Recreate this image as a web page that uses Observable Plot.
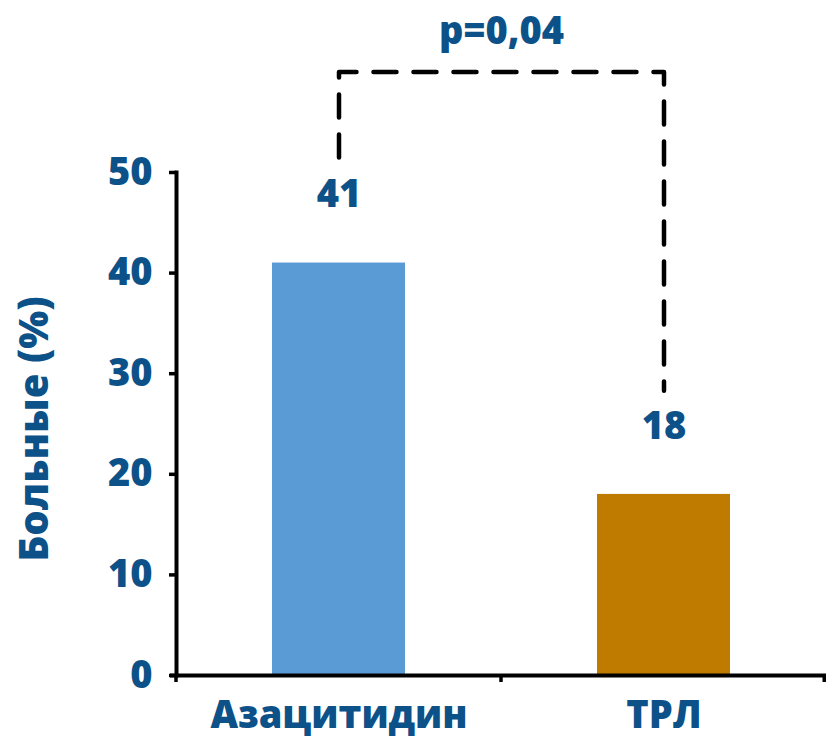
<!DOCTYPE html>
<html>
<head>
<meta charset="utf-8">
<script src="https://cdn.jsdelivr.net/npm/d3@7"></script>
<script src="https://cdn.jsdelivr.net/npm/@observablehq/plot@0.6"></script>
<style>
  body { margin: 0; background: #fff; }
  svg { display: block; }
</style>
</head>
<body>
<div id="chart"></div>
<script>
// Share of patients per treatment arm
const groups = ["Азацитидин", "ТРЛ"];
const percents = [41, 18];
const barColors = ["#5b9bd5", "#bf7b00"];
const yTicks = [0, 10, 20, 30, 40, 50];
const yLabel = "Больные (%)";
const pLabel = "p=0,04";

const ink = "#0d5189";
const font = "'Open Sans', 'Noto Sans', sans-serif";
const fs = 38;

const rows = groups.map((g, i) => ({ group: g, value: percents[i], color: barColors[i] }));

// Significance bracket: rises from above each value label to a common level over the top tick
const bracketTop = d3.max(yTicks) + 10;
const bracket = [
  { group: groups[0], y: percents[0] + 10.5 },
  { group: groups[0], y: bracketTop },
  { group: groups[1], y: bracketTop },
  { group: groups[1], y: percents[1] + 10.3 }
];

const plot = Plot.plot({
  width: 828,
  height: 744,
  marginTop: 172,
  marginBottom: 69,
  marginLeft: 176,
  marginRight: 2,
  style: { fontFamily: font, fontWeight: 800, color: ink, background: "white", overflow: "visible" },
  x: { domain: groups, padding: 0, label: null },
  y: { domain: [0, 50], label: null },
  color: { type: "identity" },
  marks: [
    Plot.barY(rows, { x: "group", y: "value", fill: "color", insetLeft: 96, insetRight: 96 }),
    Plot.axisY({ ticks: yTicks, tickSize: 7, tickPadding: 17, fontSize: fs, stroke: "black", strokeWidth: 3.5, tickFormat: d => String(d), label: null }),
    Plot.axisX({ tickSize: 0, tickPadding: 26, fontSize: fs, label: null }),
    Plot.frame({ anchor: "left", stroke: "black", strokeWidth: 4 }),
    Plot.ruleY([0], { stroke: "black", strokeWidth: 4, insetLeft: -6 }),
    Plot.text(rows, { x: "group", y: "value", text: d => String(d.value), dy: -68, fontSize: fs, fill: ink }),
    Plot.line(bracket, { x: "group", y: "y", stroke: "black", strokeWidth: 4.5, strokeDasharray: "23,17" }),
    Plot.text([pLabel], { y: bracketTop + 4, fontSize: fs, fill: ink }),
    Plot.text([yLabel], { frameAnchor: "left", textAnchor: "middle", dx: -141, dy: 5, rotate: -90, fontSize: 40, fill: ink })
  ]
});

// Small downward ticks on the category axis at the band boundaries
const xs = plot.scale("x");
const ys = plot.scale("y");
const y0 = ys.apply(0);
const edges = d3.range(groups.length + 1).map(i => xs.range[0] + i * xs.step);
d3.select(plot).append("g")
  .attr("stroke", "black")
  .attr("stroke-width", 3.5)
  .selectAll("line")
  .data(edges)
  .join("line")
  .attr("x1", d => Math.min(d, xs.range[1] - 1.75))
  .attr("x2", d => Math.min(d, xs.range[1] - 1.75))
  .attr("y1", y0)
  .attr("y2", y0 + 7);

document.getElementById("chart").append(plot);
</script>
</body>
</html>
